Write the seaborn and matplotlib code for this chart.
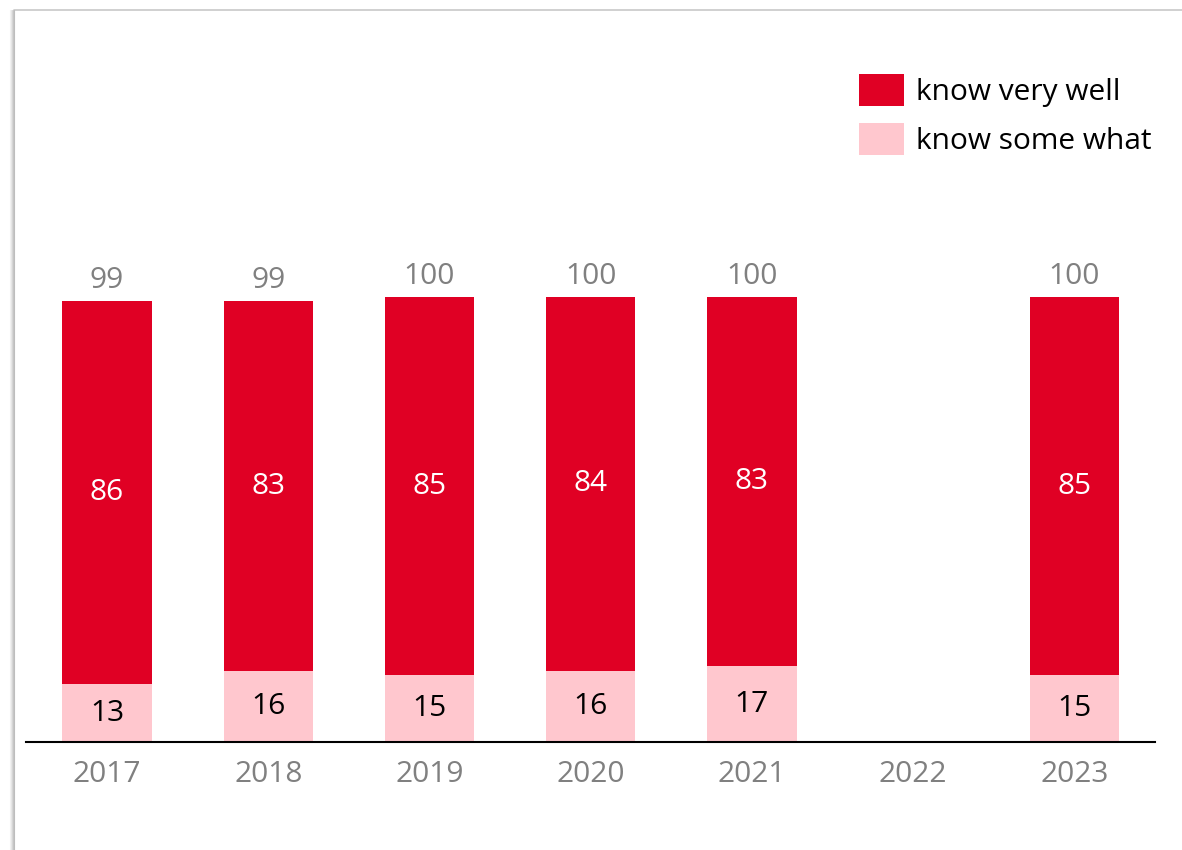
import matplotlib
matplotlib.use("Agg")
import matplotlib.pyplot as plt
import seaborn as sns
import pandas as pd
from matplotlib.lines import Line2D
from matplotlib.patches import Patch

years = ["2017", "2018", "2019", "2020", "2021", "2022", "2023"]
present_years = ["2017", "2018", "2019", "2020", "2021", "2023"]
know_very_well = [86, 83, 85, 84, 83, 85]
know_some_what = [13, 16, 15, 16, 17, 15]
totals = [99, 99, 100, 100, 100, 100]

RED = "#E00024"
PINK = "#FFC7CE"
GRAY = "#808080"

sns.set_theme(style="white")
plt.rcParams["font.family"] = ["Open Sans", "DejaVu Sans"]

df = pd.DataFrame({"year": present_years, "very": know_very_well,
                   "some": know_some_what, "total": totals})

fig = plt.figure(figsize=(11.82, 8.5), dpi=100)
ax = fig.add_axes([26.4 / 1182, 108 / 850, (1155 - 26.4) / 1182, (742 - 119) / 850])

W = 0.553
sns.barplot(data=df, x="year", y="total", order=years, color=RED, width=W,
            linewidth=0, saturation=1, ax=ax, errorbar=None)
sns.barplot(data=df, x="year", y="some", order=years, color=PINK, width=W,
            linewidth=0, saturation=1, ax=ax, errorbar=None)

ax.set_xlim(-0.5, 6.5)
ax.set_ylim(0, 140)

FS = 21.5
for i, y in enumerate(years):
    if y not in present_years:
        continue
    j = present_years.index(y)
    s, v, t = know_some_what[j], know_very_well[j], totals[j]
    ax.text(i, s / 2, str(s), ha="center", va="center", fontsize=FS, color="black")
    ax.text(i, s + v / 2, str(v), ha="center", va="center", fontsize=FS, color="white")
    ax.annotate(str(t), (i, t), xytext=(0, 15), textcoords="offset points",
                ha="center", va="center", fontsize=FS, color=GRAY)

ax.set_xlabel("")
ax.set_ylabel("")
ax.set_yticks([])
for side in ["top", "right", "left"]:
    ax.spines[side].set_visible(False)
ax.spines["bottom"].set_color("black")
ax.spines["bottom"].set_linewidth(1.5)
ax.tick_params(axis="x", length=0, pad=13, labelsize=FS, labelcolor=GRAY)

handles = [Patch(facecolor=RED, edgecolor="none", label="know very well"),
           Patch(facecolor=PINK, edgecolor="none", label="know some what")]
leg = fig.legend(handles=handles, loc="upper left",
                 bbox_to_anchor=(859 / 1182, 1 - 74 / 850),
                 frameon=False, fontsize=FS, handlelength=1.5, handleheight=1.25,
                 handletextpad=0.4, labelspacing=0.55, borderpad=0, borderaxespad=0,
                 labelcolor="black")

# frame lines (top and left border with soft shadow)
fig.add_artist(Line2D([14 / 1182, 1], [1 - 10 / 850, 1 - 10 / 850],
                      transform=fig.transFigure, color="#C8C8C8", lw=1.2))
for k, (dx, c) in enumerate([(10, "#F2F2F2"), (11, "#E6E6E6"), (12, "#D6D6D6"), (13, "#C6C6C6"), (14, "#BDBDBD")]):
    fig.add_artist(Line2D([dx / 1182, dx / 1182], [0, 1 - 10 / 850],
                          transform=fig.transFigure, color=c, lw=0.8))

fig.savefig("out.png", dpi=100, facecolor="white")
